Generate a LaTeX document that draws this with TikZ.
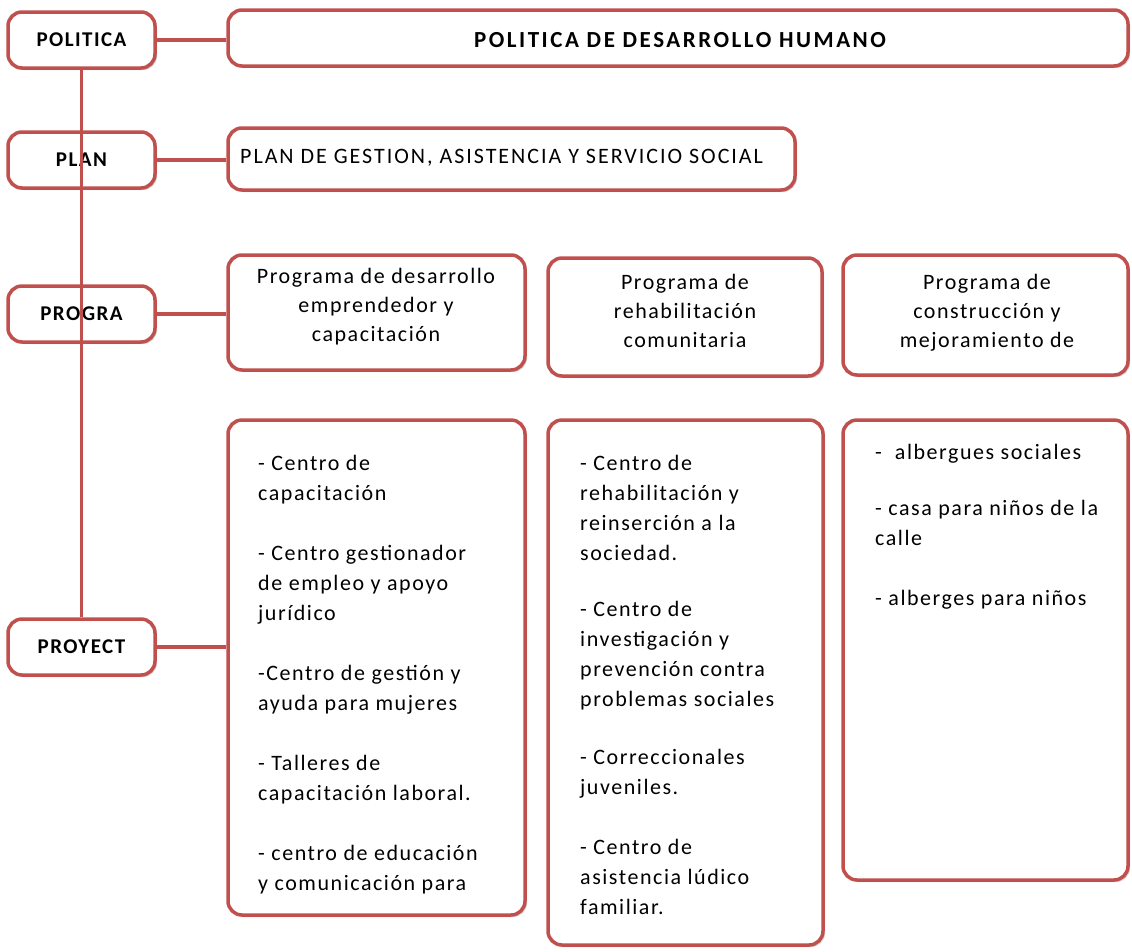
\documentclass[tikz,border=0pt]{standalone}
\usepackage{fontspec}
\setmainfont{Carlito}
\usetikzlibrary{positioning,shadows,calc}
\definecolor{borde}{HTML}{C0504D}

\begin{document}
\begin{tikzpicture}[x=1pt,y=1pt,
    caja/.style={draw=borde, line width=3.5pt, rounded corners=14pt, fill=white,
        drop shadow={shadow xshift=2pt, shadow yshift=-2pt, opacity=.35}},
    etiq/.style={caja, minimum width=147pt, minimum height=56pt,
        font=\fontsize{21}{26}\selectfont\bfseries\addfontfeature{LetterSpace=7}},
    txt/.style={font=\fontsize{22}{30}\selectfont\addfontfeature{LetterSpace=7},
        align=left, inner sep=0pt, anchor=north west},
    prog/.style={font=\fontsize{22}{29}\selectfont\addfontfeature{LetterSpace=7},
        align=center, inner sep=0pt, anchor=north},
    linea/.style={draw=borde, line width=3.5pt}]
\useasboundingbox (0,0) rectangle (1132,-951);

% niveles
\foreach \n/\t/\y in {politica/POLITICA/40, plan/PLAN/160, progra/PROGRA/314, proyect/PROYECT/647}
    \node[etiq] (\n) at (81.5,-\y) {\t};

\draw[linea] (politica.south) -- (proyect.north);

% cajas
\node[caja, minimum width=900pt, minimum height=56pt] (titulo) at (678,-38) {};
\node[caja, minimum width=567pt, minimum height=62pt] (plancaja) at (511.5,-159) {};
\node[caja, minimum width=297pt, minimum height=115pt] (prog1) at (376.5,-312.5) {};
\node[caja, minimum width=274pt, minimum height=118pt] (prog2) at (685,-317) {};
\node[caja, minimum width=285pt, minimum height=120pt] (prog3) at (985.5,-315) {};
\node[caja, minimum width=297pt, minimum height=495pt] (proy1) at (376.5,-667.5) {};
\node[caja, minimum width=275pt, minimum height=525pt] (proy2) at (685.5,-682.5) {};
\node[caja, minimum width=285pt, minimum height=460pt] (proy3) at (985.5,-650) {};

\draw[linea] (politica.east) -- (politica.east -| titulo.west);
\draw[linea] (plan.east) -- (plan.east -| plancaja.west);
\draw[linea] (progra.east) -- (progra.east -| prog1.west);
\draw[linea] (proyect.east) -- (proyect.east -| proy1.west);

% textos
\node[font=\fontsize{23}{26}\selectfont\bfseries\addfontfeature{LetterSpace=11}] (tituloT)
    at (680,-40) {POLITICA DE DESARROLLO HUMANO};
\node[txt, anchor=base west, font=\fontsize{22}{30}\selectfont\addfontfeature{LetterSpace=9}]
    (planT) at (240,-163) {PLAN DE GESTION, ASISTENCIA Y SERVICIO SOCIAL};

\node[prog] (prog1T) at (376,-268) {Programa de desarrollo\\emprendedor y\\capacitación};
\node[prog] (prog2T) at (685,-274) {Programa de\\rehabilitación\\comunitaria};
\node[prog] (prog3T) at (987,-274) {Programa de\\construcción y\\mejoramiento de};

\node[txt] (proy1T) at (258,-455) {- Centro de\\capacitación\\[30pt]
    - Centro gestionador\\de empleo y apoyo\\jurídico\\[30pt]
    -Centro de gestión y\\ayuda para mujeres\\[30pt]
    - Talleres de\\capacitación laboral.\\[30pt]
    - centro de educación\\y comunicación para};
\node[txt] (proy2T) at (580,-455) {- Centro de\\rehabilitación y\\reinserción a la\\sociedad.\\[26pt]
    - Centro de\\investigación y\\prevención contra\\problemas sociales\\[28pt]
    - Correccionales\\juveniles.\\[30pt]
    - Centro de\\asistencia lúdico\\familiar.};
\node[txt] (proy3T) at (875,-444) {-~ albergues sociales\\[26pt]
    - casa para niños de la\\calle\\[30pt]
    - alberges para niños};
\end{tikzpicture}
\end{document}
